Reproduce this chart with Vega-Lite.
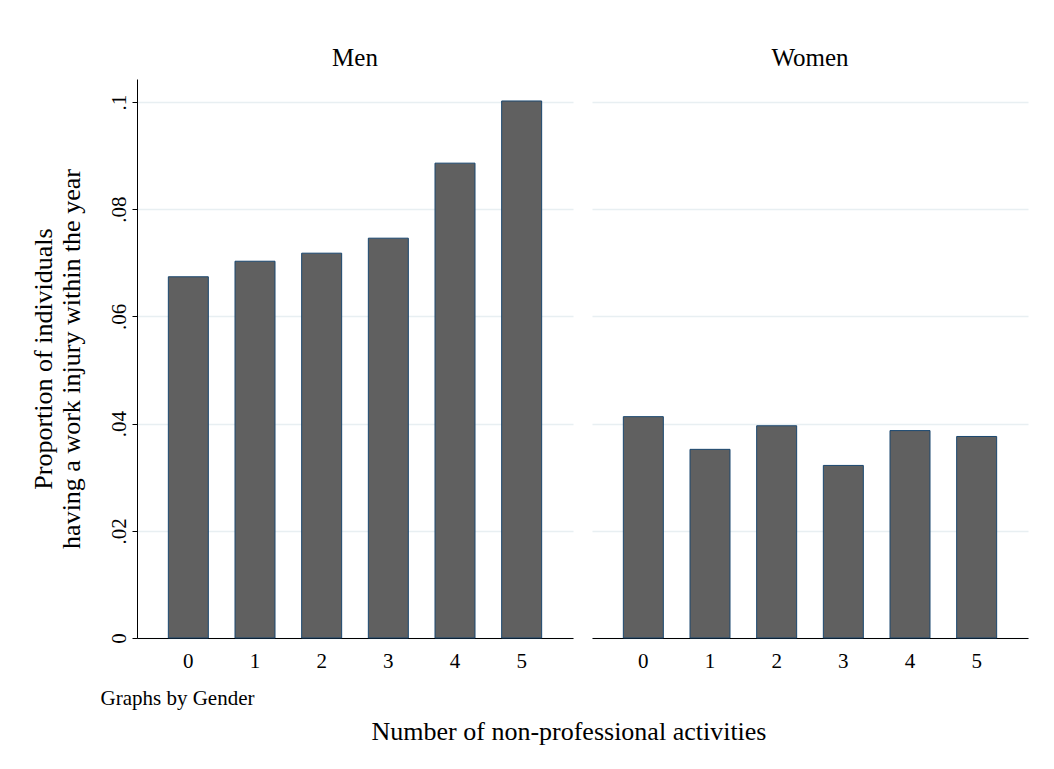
{
  "$schema": "https://vega.github.io/schema/vega-lite/v6.json",
  "background": "white",
  "padding": {"left": 30, "top": 46, "right": 10, "bottom": 10},
  "bounds": "flush",
  "spacing": 19,
  "config": {
    "font": "Liberation Serif",
    "view": {"stroke": null},
    "axis": {"labelColor": "black", "titleColor": "black", "labelFont": "Liberation Serif", "titleFont": "Liberation Serif", "titleFontWeight": "normal"},
    "title": {"font": "Liberation Serif", "fontWeight": "normal", "color": "black"}
  },
  "datasets": {
    "d": [
      {"gender": "Men", "activities": 0, "proportion": 0.0674},
      {"gender": "Men", "activities": 1, "proportion": 0.0703},
      {"gender": "Men", "activities": 2, "proportion": 0.0718},
      {"gender": "Men", "activities": 3, "proportion": 0.0746},
      {"gender": "Men", "activities": 4, "proportion": 0.0886},
      {"gender": "Men", "activities": 5, "proportion": 0.1002},
      {"gender": "Women", "activities": 0, "proportion": 0.0413},
      {"gender": "Women", "activities": 1, "proportion": 0.0352},
      {"gender": "Women", "activities": 2, "proportion": 0.0396},
      {"gender": "Women", "activities": 3, "proportion": 0.0322},
      {"gender": "Women", "activities": 4, "proportion": 0.0387},
      {"gender": "Women", "activities": 5, "proportion": 0.0376}
    ]
  },
  "title": {"text": "Number of non-professional activities", "orient": "bottom", "anchor": "middle", "fontSize": 26, "offset": 11, "dx": 40},
  "hconcat": [
    {
      "data": {"name": "d"},
      "transform": [{"filter": "datum.gender == 'Men'"}],
      "title": {"text": "Men", "fontSize": 25, "offset": 8, "anchor": "middle"},
      "width": 436,
      "height": 559,
      "mark": {"type": "bar", "fill": "#606060", "stroke": "#1a476f", "strokeWidth": 1},
      "encoding": {
        "x": {
          "field": "activities", "type": "ordinal",
          "scale": {"paddingInner": 0.4, "paddingOuter": 0.47},
          "axis": {"title": "Graphs by Gender", "titleAnchor": "start", "titleX": -37, "titleAlign": "left", "titleFontSize": 21, "titlePadding": 16, "labelAngle": 0, "labelFontSize": 21, "ticks": false, "labelPadding": 12, "domainColor": "black"}
        },
        "y": {
          "field": "proportion", "type": "quantitative",
          "scale": {"domain": [0, 0.1043], "nice": false},
          "axis": {
            "title": ["Proportion of individuals", "having a work injury within the year"],
            "titleFontSize": 26, "titlePadding": 24,
            "values": [0, 0.02, 0.04, 0.06, 0.08, 0.1],
            "labelExpr": "datum.value == 0 ? '0' : substring(format(datum.value, '.2~f'), 1)",
            "labelAngle": -90, "labelAlign": "center", "labelBaseline": "bottom",
            "labelFontSize": 21, "labelPadding": 3, "tickSize": 5, "tickColor": "black", "domainColor": "black",
            "grid": true, "gridColor": "#e8eff2", "gridWidth": 1.3
          }
        }
      }
    },
    {
      "data": {"name": "d"},
      "transform": [{"filter": "datum.gender == 'Women'"}],
      "title": {"text": "Women", "fontSize": 25, "offset": 8, "anchor": "middle"},
      "width": 436,
      "height": 559,
      "mark": {"type": "bar", "fill": "#606060", "stroke": "#1a476f", "strokeWidth": 1},
      "encoding": {
        "x": {
          "field": "activities", "type": "ordinal",
          "scale": {"paddingInner": 0.4, "paddingOuter": 0.47},
          "axis": {"title": null, "labelAngle": 0, "labelFontSize": 21, "ticks": false, "labelPadding": 12, "domainColor": "black"}
        },
        "y": {
          "field": "proportion", "type": "quantitative",
          "scale": {"domain": [0, 0.1043], "nice": false},
          "axis": {
            "title": null, "labels": false, "ticks": false, "domain": false,
            "values": [0, 0.02, 0.04, 0.06, 0.08, 0.1],
            "grid": true, "gridColor": "#e8eff2", "gridWidth": 1.3
          }
        }
      }
    }
  ]
}
